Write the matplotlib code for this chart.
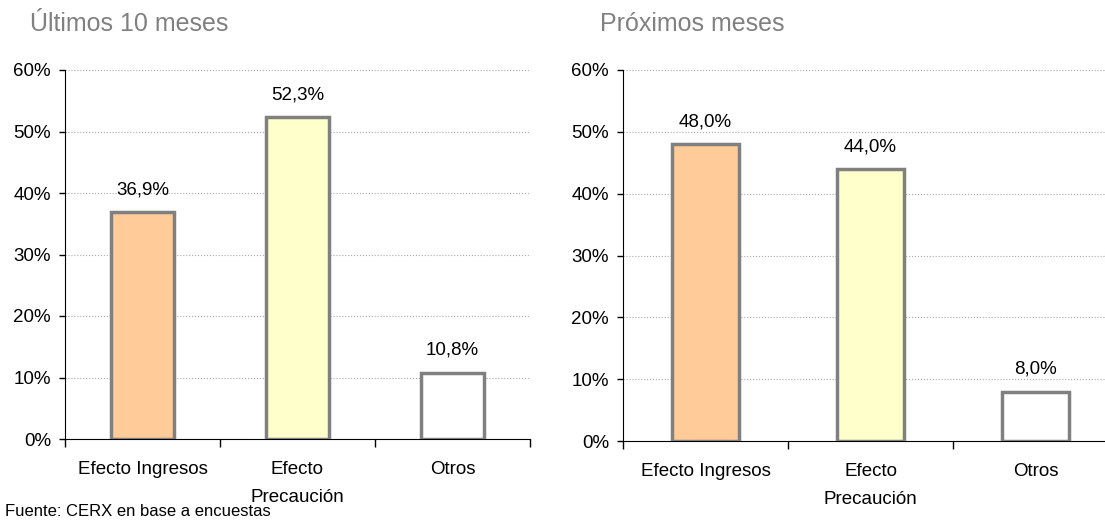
import matplotlib
matplotlib.use('Agg')
import matplotlib.pyplot as plt
from matplotlib.ticker import MultipleLocator, FuncFormatter

# data
categories = ['Efecto Ingresos', 'Efecto\nPrecaución', 'Otros']
ultimos = [36.9, 52.3, 10.8]
proximos = [48.0, 44.0, 8.0]
titles = ['Últimos 10 meses', 'Próximos meses']
bar_colors = ['#FFCC99', '#FFFFCC', '#FFFFFF']
fuente = 'Fuente: CERX en base a encuestas'

plt.rcParams['font.family'] = ['Liberation Sans', 'DejaVu Sans']
narrow = ['Liberation Sans Narrow', 'Liberation Sans', 'DejaVu Sans']

fig = plt.figure(figsize=(11.05, 5.21), dpi=100)
W, H = 1105.0, 521.0

def make_axes(x0, x1, y0, y1):
    return fig.add_axes([x0 / W, 1 - y1 / H, (x1 - x0) / W, (y1 - y0) / H])

# right panel runs past the figure edge and is clipped there
ax_l = make_axes(65, 530, 70, 439)
ax_r = make_axes(623, 1118, 70, 441)

def pct(v, pos):
    return '%d%%' % v

for ax, vals, title, tx in [(ax_l, ultimos, titles[0], 30),
                            (ax_r, proximos, titles[1], 600)]:
    xs = range(len(vals))
    ax.bar(xs, vals, width=0.41, color=bar_colors, edgecolor='#808080',
           linewidth=2.5, zorder=3)
    for x, v in zip(xs, vals):
        ax.annotate(('%.1f%%' % v).replace('.', ','), (x, v), xytext=(0, 10),
                    textcoords='offset points', ha='center', va='bottom',
                    fontsize=13.5)
    ax.set_xlim(-0.5, 2.5)
    ax.set_ylim(0, 60)
    ax.yaxis.set_major_locator(MultipleLocator(10))
    ax.yaxis.set_major_formatter(FuncFormatter(pct))
    ax.grid(axis='y', color='#aaaaaa', linestyle=':', linewidth=0.8, zorder=0)
    ax.set_axisbelow(True)
    ax.spines['top'].set_visible(False)
    ax.spines['right'].set_visible(False)
    ax.spines['left'].set_color('#000000')
    ax.spines['bottom'].set_color('#000000')
    # category boundaries as major ticks, labels on minor ticks
    ax.set_xticks([-0.5, 0.5, 1.5, 2.5])
    ax.set_xticklabels([])
    ax.set_xticks(list(xs), minor=True)
    ax.set_xticklabels(categories, minor=True, fontsize=13.5, linespacing=1.85)
    ax.tick_params(axis='x', which='major', direction='out', length=6, width=1)
    ax.tick_params(axis='x', which='minor', length=0, pad=16)
    ax.tick_params(axis='y', direction='out', length=4, width=1, labelsize=13.5, pad=6)
    fig.text(tx / W, 1 - 24 / H, title, fontsize=18, color='#808080',
             family=narrow, ha='left', va='center')

fig.text(5 / W, 1 - 511 / H, fuente, fontsize=12, family=narrow,
         ha='left', va='center')

fig.savefig('out.png', dpi=100)
